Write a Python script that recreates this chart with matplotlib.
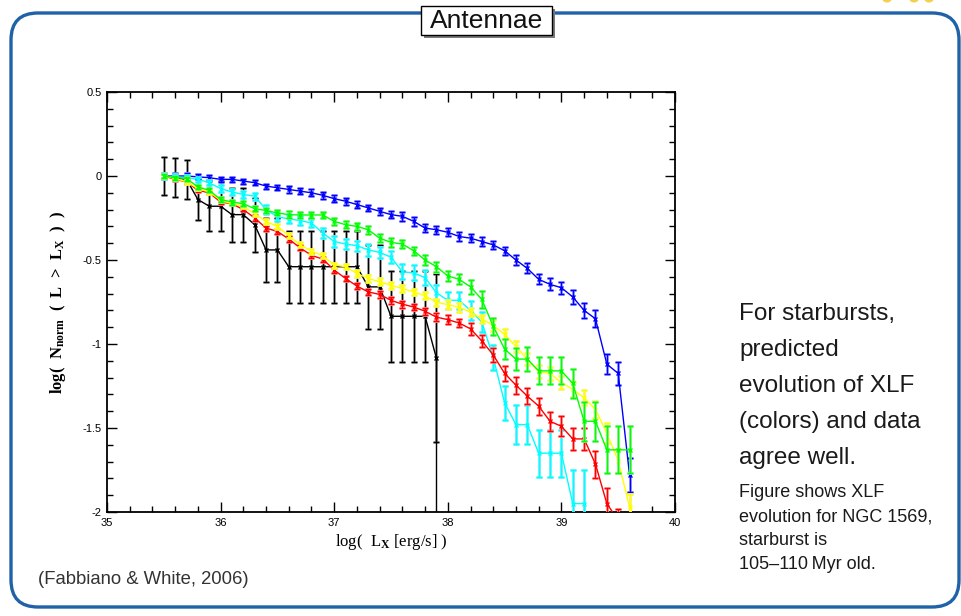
import matplotlib
matplotlib.use("Agg")
import matplotlib.pyplot as plt
import matplotlib.colors as mcolors
from matplotlib.patches import FancyBboxPatch, Rectangle, Ellipse
from matplotlib.ticker import MultipleLocator

plt.rcParams["mathtext.fontset"] = "custom"
plt.rcParams["mathtext.rm"] = "Liberation Serif"
plt.rcParams["mathtext.bf"] = "Liberation Serif:bold"
plt.rcParams["mathtext.it"] = "Liberation Serif:italic"

# Cumulative X-ray luminosity functions, log N_norm(>L) in bins of 0.1 dex from log L = 35.5
lx_start = 35.5
lx_step = 0.1

blue = [0.0, 0.0, 0.0, -0.005, -0.01, -0.02, -0.02, -0.03, -0.04, -0.06, -0.07,
        -0.08, -0.09, -0.10, -0.115, -0.135, -0.15, -0.17, -0.19, -0.21, -0.23,
        -0.24, -0.27, -0.31, -0.32, -0.335, -0.36, -0.37, -0.39, -0.41, -0.445,
        -0.50, -0.55, -0.615, -0.645, -0.665, -0.72, -0.80, -0.85, -1.12, -1.175,
        -1.78]
blue_err = [0.015, 0.015, 0.015, 0.015, 0.015, 0.015, 0.015, 0.015, 0.015, 0.015, 0.015,
            0.02, 0.02, 0.02, 0.02, 0.02, 0.02, 0.02, 0.02, 0.02, 0.02,
            0.025, 0.025, 0.025, 0.025, 0.025, 0.025, 0.025, 0.025, 0.025, 0.025,
            0.03, 0.03, 0.03, 0.035, 0.035, 0.04, 0.045, 0.05, 0.06, 0.07, 0.10]

green = [0.0, -0.01, -0.015, -0.065, -0.085, -0.14, -0.155, -0.165, -0.195, -0.205,
         -0.22, -0.23, -0.232, -0.232, -0.232, -0.27, -0.29, -0.30, -0.32, -0.37,
         -0.395, -0.405, -0.445, -0.50, -0.54, -0.595, -0.615, -0.66, -0.735, -0.895,
         -1.03, -1.09, -1.09, -1.16, -1.16, -1.16, -1.235, -1.46, -1.46, -1.63,
         -1.63, -1.63]
green_err = [0.012, 0.012, 0.012, 0.012, 0.012, 0.015, 0.015, 0.015, 0.015, 0.015,
             0.015, 0.02, 0.02, 0.02, 0.02, 0.02, 0.02, 0.02, 0.025, 0.025,
             0.025, 0.025, 0.025, 0.03, 0.03, 0.03, 0.03, 0.04, 0.05, 0.05,
             0.06, 0.065, 0.07, 0.08, 0.08, 0.08, 0.085, 0.115, 0.115, 0.14,
             0.14, 0.14]

cyan = [0.0, -0.005, -0.01, -0.02, -0.04, -0.075, -0.095, -0.11, -0.12, -0.20,
        -0.243, -0.255, -0.265, -0.28, -0.34, -0.39, -0.405, -0.415, -0.44, -0.455,
        -0.483, -0.57, -0.577, -0.605, -0.695, -0.74, -0.74, -0.80, -0.87, -1.08,
        -1.35, -1.48, -1.48, -1.65, -1.65, -1.65, -1.95, -1.95]
cyan_err = [0.015, 0.015, 0.015, 0.015, 0.015, 0.02, 0.02, 0.02, 0.02, 0.025,
            0.025, 0.025, 0.025, 0.025, 0.03, 0.03, 0.03, 0.03, 0.035, 0.035,
            0.035, 0.045, 0.045, 0.045, 0.045, 0.05, 0.05, 0.055, 0.06, 0.075,
            0.10, 0.115, 0.115, 0.14, 0.14, 0.14, 0.2, 0.2]

yellow = [0.0, -0.015, -0.035, -0.075, -0.095, -0.145, -0.165, -0.18, -0.225, -0.27,
          -0.30, -0.355, -0.41, -0.447, -0.475, -0.53, -0.54, -0.58, -0.61, -0.63,
          -0.65, -0.67, -0.69, -0.713, -0.752, -0.765, -0.782, -0.81, -0.85, -0.89,
          -0.943, -1.015, -1.09, -1.165, -1.175, -1.23, -1.27, -1.32, -1.39, -1.53,
          -1.695, -1.97]
yellow_err = [0.01, 0.01, 0.01, 0.01, 0.01, 0.01, 0.01, 0.01, 0.015, 0.015,
              0.015, 0.015, 0.015, 0.015, 0.015, 0.015, 0.015, 0.02, 0.02, 0.02,
              0.02, 0.02, 0.02, 0.02, 0.02, 0.025, 0.025, 0.025, 0.025, 0.03,
              0.03, 0.035, 0.035, 0.04, 0.04, 0.04, 0.045, 0.045, 0.05, 0.06,
              0.07, 0.08]

red = [0.0, -0.02, -0.035, -0.085, -0.10, -0.155, -0.165, -0.20, -0.25, -0.31,
       -0.33, -0.375, -0.428, -0.472, -0.495, -0.56, -0.61, -0.655, -0.69, -0.705,
       -0.74, -0.763, -0.78, -0.805, -0.84, -0.855, -0.875, -0.91, -0.982, -1.065,
       -1.175, -1.245, -1.31, -1.37, -1.46, -1.49, -1.565, -1.565, -1.715, -1.95,
       -2.05]
red_err = [0.01, 0.01, 0.01, 0.01, 0.01, 0.01, 0.01, 0.01, 0.015, 0.015,
           0.015, 0.015, 0.015, 0.015, 0.015, 0.015, 0.015, 0.02, 0.02, 0.02,
           0.02, 0.02, 0.02, 0.02, 0.025, 0.025, 0.025, 0.035, 0.035, 0.04,
           0.045, 0.05, 0.05, 0.05, 0.055, 0.06, 0.065, 0.065, 0.08, 0.09,
           0.07]

# Observed Antennae XLF; the count drops to zero after the last bin
black = [0.0, -0.01, -0.02, -0.14, -0.18, -0.18, -0.23, -0.23, -0.29, -0.44,
         -0.44, -0.54, -0.54, -0.54, -0.54, -0.54, -0.54, -0.54, -0.66, -0.66,
         -0.835, -0.835, -0.835, -0.835, -1.085]
black_err = [0.115, 0.115, 0.115, 0.12, 0.15, 0.15, 0.16, 0.16, 0.16, 0.19,
             0.19, 0.215, 0.215, 0.215, 0.215, 0.215, 0.215, 0.215, 0.25, 0.25,
             0.27, 0.27, 0.27, 0.27, 0.5]

x_ticks = [35, 36, 37, 38, 39, 40]
y_ticks = [-2, -1.5, -1, -0.5, 0, 0.5]
y_tick_labels = ["-2", "-1.5", "-1", "-0.5", "0", "0.5"]

W, H = 962, 616
fig = plt.figure(figsize=(W / 100, H / 100), dpi=100)
fig.patch.set_facecolor("white")

# page canvas in pixel coordinates
canvas = fig.add_axes([0, 0, 1, 1])
canvas.set_xlim(0, W)
canvas.set_ylim(H, 0)
canvas.axis("off")

# small decorative dots peeking in at the top right corner
for cx in (887, 914, 929):
    canvas.add_patch(Ellipse((cx, -2), 10, 9, fc="#f6cf4a", ec="none"))

canvas.add_patch(FancyBboxPatch((11, 13), 948, 594,
                                boxstyle="round,pad=0,rounding_size=27",
                                fc="none", ec="#1f62a8", lw=2.4))
# title tab with drop shadow
canvas.add_patch(Rectangle((424, 9), 131, 29, fc="#7a7a7a", ec="none", zorder=3))
canvas.add_patch(Rectangle((421, 6), 131, 29, fc="white", ec="black", lw=1.0, zorder=4))
canvas.text(486.5, 21, "Antennae", ha="center", va="center", fontsize=19,
            family="Liberation Sans", color="#111111", zorder=5)

canvas.text(38, 584, "(Fabbiano & White, 2006)", ha="left", va="baseline",
            fontsize=13.3, family="Liberation Sans", color="#333333")

big_lines = ["For starbursts,", "predicted", "evolution of XLF",
             "(colors) and data", "agree well."]
for k, line in enumerate(big_lines):
    canvas.text(739, 320 + 36 * k, line, ha="left", va="baseline",
                fontsize=17.5, family="Liberation Sans", color="#1a1a1a")
small_lines = ["Figure shows XLF", "evolution for NGC 1569,", "starburst is",
               "105\u2013110\u2009Myr old."]
for k, line in enumerate(small_lines):
    canvas.text(739, 497 + 24 * k, line, ha="left", va="baseline",
                fontsize=13, family=["Liberation Sans", "DejaVu Sans"], color="#1a1a1a")

# XLF panel
ax = fig.add_axes([107 / W, 1 - 512 / H, 568 / W, 420 / H])
ax.set_xlim(35, 40)
ax.set_ylim(-2, 0.5)


def lighten(color, amount):
    r, g, b = mcolors.to_rgb(color)
    return (r + (1 - r) * amount, g + (1 - g) * amount, b + (1 - b) * amount)


def draw_xlf(values, errors, color, halo, z):
    xs = [lx_start + lx_step * i for i in range(len(values))]
    ax.errorbar(xs, values, yerr=errors, fmt="none", ecolor=halo,
                elinewidth=2.0, capsize=2.3, capthick=2.0, zorder=z)
    ax.errorbar(xs, values, yerr=errors, fmt="-x", color=color, ms=3.2, mew=1.0,
                lw=1.0, elinewidth=0.9, capsize=2.2, capthick=0.9, zorder=z + 0.5)
    return xs


bx = draw_xlf(black, black_err, "black", "#a8a8a8", 2)
ax.plot([bx[-1], bx[-1]], [black[-1], -2], color="black", lw=1.0, zorder=2.5)
draw_xlf(blue, blue_err, "#0000ff", lighten("#0000ff", 0.6), 3)
draw_xlf(cyan, cyan_err, "#00ffff", lighten("#00e0ff", 0.45), 4)
draw_xlf(red, red_err, "#ff0000", lighten("#ff0000", 0.6), 5)
draw_xlf(yellow, yellow_err, "#ffff00", lighten("#e8e800", 0.5), 6)
draw_xlf(green, green_err, "#00ff00", lighten("#00dd00", 0.55), 7)

ax.set_xticks(x_ticks)
ax.set_xticklabels([str(v) for v in x_ticks])
ax.set_yticks(y_ticks)
ax.set_yticklabels(y_tick_labels)
ax.xaxis.set_minor_locator(MultipleLocator(0.2))
ax.yaxis.set_minor_locator(MultipleLocator(0.1))
ax.tick_params(which="both", direction="in", top=True, right=True, width=1.0,
               labelsize=8, pad=4)
ax.tick_params(which="major", length=7)
ax.tick_params(which="minor", length=4)
for lab in ax.get_xticklabels() + ax.get_yticklabels():
    lab.set_family("Liberation Sans")
for sp in ax.spines.values():
    sp.set_linewidth(1.3)

ax.set_xlabel(r"log(  L$_{\mathbf{X}}$ [erg/s] )", family="Liberation Serif",
              fontsize=12, labelpad=3)
ax.set_ylabel(r"log(  N$_{\mathbf{norm}}$  (  L  >  L$_{\mathbf{X}}$  )  )",
              family="Liberation Serif", fontsize=12, fontweight="bold", labelpad=10)

fig.savefig("out.png", dpi=100, facecolor="white")
